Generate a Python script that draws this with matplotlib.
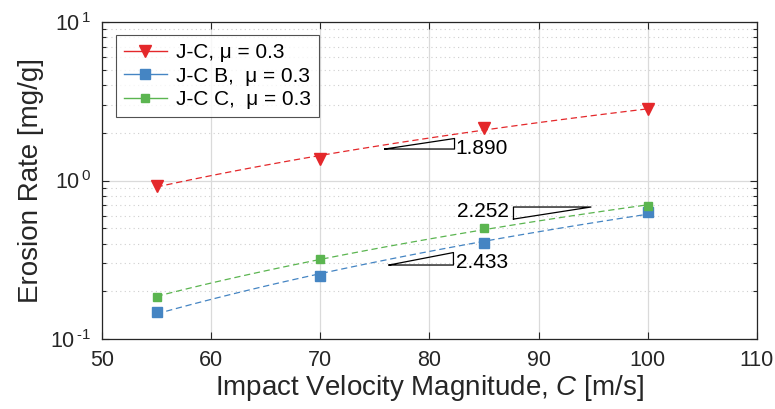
import numpy as np
import matplotlib
matplotlib.use("Agg")
import matplotlib.pyplot as plt
from matplotlib.lines import Line2D
from matplotlib.ticker import LogLocator, FixedLocator, NullFormatter

plt.rcParams['font.family'] = ['Liberation Sans', 'DejaVu Sans']
plt.rcParams['mathtext.fontset'] = 'custom'
plt.rcParams['mathtext.rm'] = 'Liberation Sans'
plt.rcParams['mathtext.it'] = 'Liberation Sans:italic'

velocity = [55, 70, 85, 100]
rate_jc = [0.93, 1.37, 2.14, 2.83]
rate_jcb = [0.148, 0.25, 0.403, 0.633]
rate_jcc = [0.184, 0.32, 0.50, 0.69]
labels = ['J-C, μ = 0.3', 'J-C B,  μ = 0.3', 'J-C C,  μ = 0.3']
slope_texts = ['1.890', '2.433', '2.252']
x_ticks = [50, 60, 70, 80, 90, 100, 110]
y_ticks = [0.1, 1, 10]
y_ticklabels = [r'$10^{\,\text{-}1}$', r'$10^{\,0}$', r'$10^{\,1}$']

red = '#E4282B'
blue = '#4585C3'
green = '#5BB550'
dark = '#262626'

fig = plt.figure(figsize=(7.75, 4.09), dpi=100)
ax = fig.add_axes([0.1316, 0.1711, 0.845, 0.7751])
ax.set_yscale('log')
ax.set_xlim(50, 110)
ax.set_ylim(0.1, 10)

x = np.array(velocity, dtype=float)
series = [(rate_jc, red, 'v', 9), (rate_jcb, blue, 's', 7), (rate_jcc, green, 's', 5.3)]
xf = np.linspace(55, 100, 100)
for vals, col, mk, ms in series:
    y = np.array(vals)
    p = np.polyfit(np.log10(x), np.log10(y), 1)
    ax.plot(xf, 10 ** np.polyval(p, np.log10(xf)), color=col, lw=0.9, dashes=(5, 3), zorder=3)
    ax.plot(x, y, linestyle='none', marker=mk, color=col, markersize=ms, zorder=4)

# slope triangles
def tri(x0, x1, ylow, slope, flip=False):
    yhigh = ylow * (x1 / x0) ** slope
    if not flip:
        xs = [x0, x1, x1, x0]
        ys = [ylow, yhigh, ylow, ylow]
    else:
        xs = [x0, x1, x0, x0]
        ys = [ylow, yhigh, yhigh, ylow]
    ax.plot(xs, ys, color='black', lw=0.9, zorder=5)

tri(75.9, 82.3, 1.58, 1.890)
ax.text(82.4, 1.60, slope_texts[0], fontsize=15, va='center', ha='left', zorder=6)
tri(76.3, 82.2, 0.293, 2.433)
ax.text(82.4, 0.302, slope_texts[1], fontsize=15, va='center', ha='left', zorder=6)
tri(87.7, 94.8, 0.571, 2.252, flip=True)
ax.text(87.3, 0.642, slope_texts[2], fontsize=15, va='center', ha='right', zorder=6)

ax.xaxis.set_major_locator(FixedLocator(x_ticks))
ax.set_yticks(y_ticks)
ax.set_yticklabels(y_ticklabels)
ax.yaxis.set_minor_locator(LogLocator(base=10, subs=np.arange(2, 10), numticks=20))
ax.yaxis.set_minor_formatter(NullFormatter())

ax.grid(True, which='major', color='#DADADA', lw=0.9)
ax.grid(True, which='minor', axis='y', color='#CFCFCF', lw=0.8, linestyle=(0, (1, 3)))
ax.set_axisbelow(True)
ax.tick_params(which='both', direction='in', top=True, right=True, labelsize=15.5,
               colors=dark, width=0.8)
ax.tick_params(axis='x', which='major', length=5, pad=8)
ax.tick_params(axis='y', which='major', length=5, pad=8)
ax.tick_params(which='minor', length=3)
for s in ax.spines.values():
    s.set_color(dark)
    s.set_linewidth(0.9)

ax.set_xlabel(r'Impact Velocity Magnitude, $\mathit{C}$ [m/s]', fontsize=20, color=dark, labelpad=1)
ax.set_ylabel('Erosion Rate [mg/g]', fontsize=20, color=dark, labelpad=4)

handles = [Line2D([], [], color=c, marker=m, markersize=ms, lw=1.0) for (_, c, m, ms) in series]
leg = ax.legend(handles, labels, loc='upper left', bbox_to_anchor=(0.021, 0.959), borderaxespad=0,
                fontsize=15, frameon=True, fancybox=False, edgecolor=dark, handlelength=2.07,
                borderpad=0.38, labelspacing=0.22, handletextpad=0.43)
leg.get_frame().set_linewidth(0.8)

fig.savefig('out.png', dpi=100)
